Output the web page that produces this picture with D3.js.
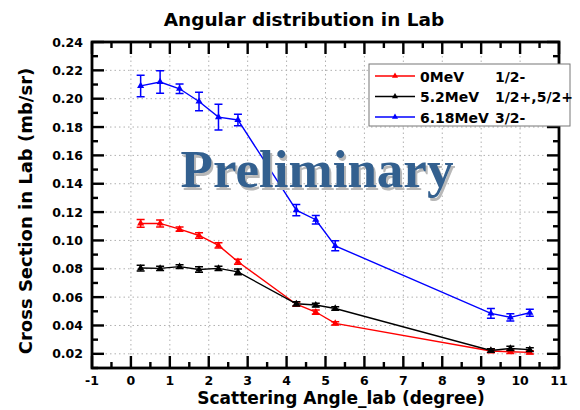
<!DOCTYPE html>
<html>
<head>
<meta charset="utf-8">
<script src="https://cdn.jsdelivr.net/npm/d3@7"></script>
<style>
  body { margin: 0; background: #fff; }
  svg { display: block; font-family: "DejaVu Sans", sans-serif; }
</style>
</head>
<body>
<div id="chart"></div>
<script>
const w = 580;
const h = 410;

// scattering angles (degree)
const angles = [0.25, 0.75, 1.25, 1.75, 2.25, 2.75, 4.25, 4.75, 5.25, 9.25, 9.75, 10.25];
// 0MeV 1/2-
const gs = [0.112, 0.112, 0.108, 0.1035, 0.0965, 0.085, 0.055, 0.0495, 0.0415, 0.022, 0.0215, 0.021];
const gsErr = [0.0027, 0.0025, 0.0015, 0.002, 0.0018, 0.0018, 0.0015, 0.0015, 0.0012, 0.0012, 0.0012, 0.0012];
// 5.2MeV 1/2+,5/2+
const ex52 = [0.0805, 0.0803, 0.0815, 0.0795, 0.0803, 0.0778, 0.0553, 0.0544, 0.052, 0.0224, 0.0238, 0.023];
const ex52Err = [0.002, 0.0015, 0.0013, 0.002, 0.0015, 0.002, 0.0015, 0.0013, 0.0013, 0.0012, 0.0015, 0.0013];
// 6.18MeV 3/2-
const ex618 = [0.209, 0.2118, 0.207, 0.198, 0.187, 0.185, 0.1214, 0.1146, 0.0962, 0.0485, 0.0457, 0.049];
const ex618Err = [0.0076, 0.008, 0.0033, 0.0065, 0.009, 0.004, 0.004, 0.003, 0.0035, 0.0034, 0.0025, 0.0025];

const energies = ["0MeV", "5.2MeV", "6.18MeV"];
const spins = ["1/2-", "1/2+,5/2+", "3/2-"];
const colors = ["#ff0000", "#000000", "#0000ff"];

const xTicks = [-1, 0, 1, 2, 3, 4, 5, 6, 7, 8, 9, 10, 11];
const xMinor = [-0.5, 0.5, 1.5, 2.5, 3.5, 4.5, 5.5, 6.5, 7.5, 8.5, 9.5, 10.5];
const yTicks = [0.02, 0.04, 0.06, 0.08, 0.10, 0.12, 0.14, 0.16, 0.18, 0.20, 0.22, 0.24];
const yMinor = [0.01, 0.03, 0.05, 0.07, 0.09, 0.11, 0.13, 0.15, 0.17, 0.19, 0.21, 0.23];

const series = [
    { vals: gs, errs: gsErr },
    { vals: ex52, errs: ex52Err },
    { vals: ex618, errs: ex618Err }
];

const x = d3.scaleLinear().domain([-1, 11]).range([92, 559]);
const y = d3.scaleLinear().domain([0.01, 0.24]).range([368, 42]);
const plotL = x.range()[0], plotR = x.range()[1];
const plotB = y.range()[0], plotT = y.range()[1];

const svg = d3.select("#chart")
    .append("svg")
    .attr("width", w)
    .attr("height", h);

svg.append("rect").attr("width", w).attr("height", h).style("fill", "#fff");

// dotted grid
svg.append("g")
    .selectAll("line")
    .data(xTicks.slice(1, -1))
    .enter()
    .append("line")
    .attr("x1", d => x(d)).attr("x2", d => x(d))
    .attr("y1", plotB).attr("y2", plotT)
    .style("stroke", "#b0b0b0")
    .style("stroke-dasharray", "1.5,3");

svg.append("g")
    .selectAll("line")
    .data(yTicks.slice(0, -1))
    .enter()
    .append("line")
    .attr("y1", d => y(d)).attr("y2", d => y(d))
    .attr("x1", plotL).attr("x2", plotR)
    .style("stroke", "#b0b0b0")
    .style("stroke-dasharray", "1.5,3");

// series lines, error bars, markers
const tri = d3.symbol().type(d3.symbolTriangle).size(22);

series.forEach((s, k) => {
    const pts = angles.map((a, i) => ({ a: a, v: s.vals[i], e: s.errs[i] }));
    const g = svg.append("g");

    g.append("path")
        .datum(pts)
        .attr("d", d3.line().x(d => x(d.a)).y(d => y(d.v)))
        .style("fill", "none")
        .style("stroke", colors[k])
        .style("stroke-width", "1.4px");

    g.selectAll(".err")
        .data(pts)
        .enter()
        .append("path")
        .attr("d", d => {
            const cx = x(d.a), lo = y(d.v - d.e), hi = y(d.v + d.e);
            return `M${cx},${lo}V${hi}M${cx - 4},${lo}H${cx + 4}M${cx - 4},${hi}H${cx + 4}`;
        })
        .style("fill", "none")
        .style("stroke", colors[k])
        .style("stroke-width", "1.5px");

    g.selectAll(".mk")
        .data(pts)
        .enter()
        .append("path")
        .attr("d", tri)
        .attr("transform", d => `translate(${x(d.a)},${y(d.v)})`)
        .style("fill", colors[k]);
});

// frame with inward ticks on all four sides
function xTickRects(vals, len) {
    svg.append("g").selectAll("rect").data(vals).enter().append("rect")
        .attr("x", d => x(d) - 1.2).attr("y", plotB - len)
        .attr("width", 2.4).attr("height", len)
        .style("fill", "#000");
    svg.append("g").selectAll("rect").data(vals).enter().append("rect")
        .attr("x", d => x(d) - 1.2).attr("y", plotT)
        .attr("width", 2.4).attr("height", len)
        .style("fill", "#000");
}
function yTickRects(vals, len) {
    svg.append("g").selectAll("rect").data(vals).enter().append("rect")
        .attr("x", plotL).attr("y", d => y(d) - 1.2)
        .attr("width", len).attr("height", 2.4)
        .style("fill", "#000");
    svg.append("g").selectAll("rect").data(vals).enter().append("rect")
        .attr("x", plotR - len).attr("y", d => y(d) - 1.2)
        .attr("width", len).attr("height", 2.4)
        .style("fill", "#000");
}
xTickRects(xTicks, 12);
xTickRects(xMinor, 6);
yTickRects(yTicks, 12);
yTickRects(yMinor, 6);

svg.append("rect")
    .attr("x", plotL).attr("y", plotT)
    .attr("width", plotR - plotL).attr("height", plotB - plotT)
    .style("fill", "none")
    .style("stroke", "#000")
    .style("stroke-width", "2.8px");

// tick labels
svg.append("g")
    .style("font-weight", "bold")
    .style("font-size", "12.5px")
    .attr("text-anchor", "middle")
    .selectAll("text")
    .data(xTicks)
    .enter()
    .append("text")
    .attr("x", d => x(d))
    .attr("y", plotB + 17)
    .text(d => d);

svg.append("g")
    .style("font-weight", "bold")
    .style("font-size", "12.5px")
    .attr("text-anchor", "end")
    .selectAll("text")
    .data(yTicks)
    .enter()
    .append("text")
    .attr("x", plotL - 9)
    .attr("y", d => y(d) + 4.5)
    .text(d => d3.format(".2f")(d));

// watermark
const prelim = svg.append("g")
    .style("font-family", "'Liberation Serif'")
    .style("font-weight", "bold")
    .style("font-size", "53px")
    .attr("text-anchor", "middle");
prelim.append("text")
    .attr("x", 319).attr("y", 190)
    .style("fill", "#b8b8b8")
    .text("Preliminary");
prelim.append("text")
    .attr("x", 317).attr("y", 187)
    .style("fill", "#33608f")
    .text("Preliminary");

// legend
const legend = svg.append("g");
legend.append("rect")
    .attr("x", 369).attr("y", 64)
    .attr("width", 201).attr("height", 62)
    .style("fill", "#fff")
    .style("stroke", "#777")
    .style("stroke-width", "1px");

const rows = legend.selectAll(".row")
    .data(energies)
    .enter()
    .append("g")
    .attr("transform", (d, i) => `translate(0,${76 + i * 20.5})`);
rows.append("path")
    .attr("d", "M375,0H415")
    .style("stroke", (d, i) => colors[i])
    .style("stroke-width", "1.4px");
rows.append("path")
    .attr("d", d3.symbol().type(d3.symbolTriangle).size(16))
    .attr("transform", "translate(395,0)")
    .style("fill", (d, i) => colors[i]);
rows.append("text")
    .attr("x", 420).attr("y", 5.5)
    .style("font-weight", "bold")
    .style("font-size", "14px")
    .text(d => d);
rows.append("text")
    .attr("x", 495).attr("y", 5.5)
    .style("font-weight", "bold")
    .style("font-size", "14px")
    .text((d, i) => spins[i]);

// titles
svg.append("text")
    .attr("x", 304).attr("y", 26)
    .attr("text-anchor", "middle")
    .style("font-weight", "bold")
    .style("font-size", "18.5px")
    .text("Angular distribution in Lab");

svg.append("text")
    .attr("x", 341).attr("y", 404)
    .attr("text-anchor", "middle")
    .style("font-weight", "bold")
    .style("font-size", "17px")
    .text("Scattering Angle_lab (degree)");

svg.append("text")
    .attr("transform", "translate(32,211) rotate(-90)")
    .attr("text-anchor", "middle")
    .style("font-weight", "bold")
    .style("font-size", "18px")
    .text("Cross Section in Lab (mb/sr)");
</script>
</body>
</html>
